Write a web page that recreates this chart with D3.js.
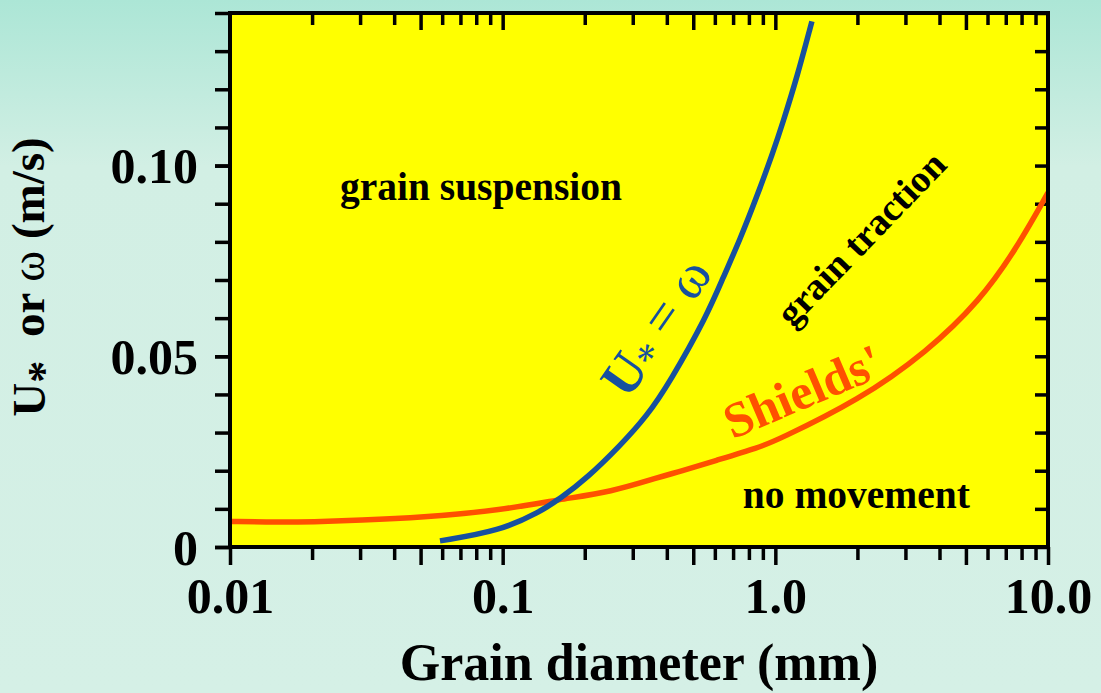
<!DOCTYPE html>
<html>
<head>
<meta charset="utf-8">
<script src="https://cdn.jsdelivr.net/npm/d3@7"></script>
<style>
  html, body { margin: 0; padding: 0; overflow: hidden; background: #d4f0e6; }
  svg { display: block; }
</style>
</head>
<body>
<script>
// Settling velocity curve (U* = ω): grain diameter (mm) vs velocity (m/s)
const settleDiameter = [0.0589, 0.0977, 0.137, 0.162, 0.204, 0.269, 0.338, 0.411, 0.561, 0.643, 0.742, 0.856, 0.98, 1.066, 1.2, 1.362];
const settleVelocity = [0.0016, 0.0042, 0.0092, 0.0126, 0.0181, 0.0265, 0.0343, 0.0433, 0.0606, 0.0706, 0.0806, 0.0919, 0.1034, 0.1113, 0.1231, 0.1378];

// Shields' threshold of motion: grain diameter (mm) vs critical shear velocity (m/s)
const shieldsDiameter = [0.01, 0.015, 0.02, 0.03, 0.05, 0.1, 0.162, 0.25, 0.378, 0.447, 0.6, 0.879, 1.0, 2.04, 3.6, 5.62, 7.69, 10];
const shieldsVelocity = [0.0067, 0.0065, 0.0066, 0.0070, 0.0077, 0.0097, 0.0125, 0.0144, 0.0184, 0.0198, 0.0226, 0.0262, 0.0278, 0.0386, 0.0512, 0.0645, 0.0784, 0.0929];

// Axis ticks
const xMajorTicks = [0.01, 0.1, 1, 10];
const xTickLabels = ["0.01", "0.1", "1.0", "10.0"];
const yMajorTicks = [0, 0.05, 0.10];
const yTickLabels = ["0", "0.05", "0.10"];

const W = 1101, H = 693;
const plot = { left: 230, right: 1048, top: 13, bottom: 547 };
const serif = "'Liberation Serif', 'Times New Roman', Times, serif";

const x = d3.scaleLog().domain([0.01, 10]).range([plot.left, plot.right]);
const y = d3.scaleLinear().domain([0, 0.14]).range([plot.bottom, plot.top]);

const svg = d3.select("body").append("svg")
  .attr("width", W).attr("height", H);

// Backdrop gradient
const defs = svg.append("defs");
const grad = defs.append("linearGradient")
  .attr("id", "bg").attr("x1", 0).attr("y1", 0).attr("x2", 0).attr("y2", 1);
grad.append("stop").attr("offset", "0%").attr("stop-color", "#ace6d6");
grad.append("stop").attr("offset", "24%").attr("stop-color", "#d2efe4");
grad.append("stop").attr("offset", "100%").attr("stop-color", "#d5f0e6");
svg.append("rect").attr("width", W).attr("height", H).attr("fill", "url(#bg)");

// Plot panel
svg.append("rect")
  .attr("x", plot.left).attr("y", plot.top)
  .attr("width", plot.right - plot.left).attr("height", plot.bottom - plot.top)
  .attr("fill", "#ffff00");

defs.append("clipPath").attr("id", "plotClip")
  .append("rect")
  .attr("x", plot.left).attr("y", plot.top)
  .attr("width", plot.right - plot.left).attr("height", plot.bottom - plot.top);

// Minor ticks: 2..9 in each decade; the 5s are drawn longer
const decades = [0.01, 0.1, 1];
const xMinor = [], xMid = [];
decades.forEach(dec => {
  [2, 3, 4, 6, 7, 8, 9].forEach(m => xMinor.push(+(dec * m).toPrecision(3)));
  xMid.push(+(dec * 5).toPrecision(3));
});
const yMinor = d3.range(0, 15).map(i => +(i * 0.01).toFixed(2));

function styleAxis(g) {
  g.select(".domain").remove();
  g.selectAll(".tick line").attr("stroke", "#000").attr("stroke-width", 3.5);
}

// Bottom axis (outward ticks)
svg.append("g").attr("transform", `translate(0,${plot.bottom})`)
  .call(d3.axisBottom(x).tickValues(xMinor).tickSize(13).tickFormat(""))
  .call(styleAxis);
svg.append("g").attr("transform", `translate(0,${plot.bottom})`)
  .call(d3.axisBottom(x).tickValues(xMid).tickSize(18).tickFormat(""))
  .call(styleAxis);
const xAxisMajor = svg.append("g").attr("transform", `translate(0,${plot.bottom})`)
  .call(d3.axisBottom(x).tickValues(xMajorTicks).tickSize(18)
    .tickFormat((d, i) => xTickLabels[i]))
  .call(styleAxis);
xAxisMajor.selectAll(".tick text")
  .attr("y", 66).attr("dy", 0)
  .attr("font-family", serif).attr("font-weight", "bold")
  .attr("font-size", 50).attr("fill", "#000");

// Top axis (inward ticks)
svg.append("g").attr("transform", `translate(0,${plot.top})`)
  .call(d3.axisTop(x).tickValues(xMinor).tickSize(-12).tickFormat(""))
  .call(styleAxis);
svg.append("g").attr("transform", `translate(0,${plot.top})`)
  .call(d3.axisTop(x).tickValues(xMid.concat([0.1, 1])).tickSize(-17).tickFormat(""))
  .call(styleAxis);

// Left axis (outward ticks, every 0.01)
svg.append("g").attr("transform", `translate(${plot.left},0)`)
  .call(d3.axisLeft(y).tickValues(yMinor).tickSize(15).tickFormat(""))
  .call(styleAxis);
const yAxisLabels = svg.append("g").attr("transform", `translate(${plot.left},0)`)
  .call(d3.axisLeft(y).tickValues(yMajorTicks).tickSize(15)
    .tickFormat((d, i) => yTickLabels[i]))
  .call(styleAxis);
yAxisLabels.selectAll(".tick text")
  .attr("x", -32).attr("dy", "0.34em")
  .attr("font-family", serif).attr("font-weight", "bold")
  .attr("font-size", 50).attr("fill", "#000");

// Right axis (inward ticks)
svg.append("g").attr("transform", `translate(${plot.right},0)`)
  .call(d3.axisRight(y).tickValues(yMinor).tickSize(-13).tickFormat(""))
  .call(styleAxis);

// Curves
const line = d3.line()
  .x(d => x(d[0])).y(d => y(d[1]))
  .curve(d3.curveBasis);

const curves = svg.append("g").attr("clip-path", "url(#plotClip)");
curves.append("path")
  .datum(d3.zip(shieldsDiameter, shieldsVelocity))
  .attr("d", line)
  .attr("fill", "none").attr("stroke", "#ff5000").attr("stroke-width", 5.5);
curves.append("path")
  .datum(d3.zip(settleDiameter, settleVelocity))
  .attr("d", line)
  .attr("fill", "none").attr("stroke", "#17509f").attr("stroke-width", 5.5);

// Frame
svg.append("rect")
  .attr("x", plot.left).attr("y", plot.top)
  .attr("width", plot.right - plot.left).attr("height", plot.bottom - plot.top)
  .attr("fill", "none").attr("stroke", "#000").attr("stroke-width", 4);

// Region and curve labels
const labels = svg.append("g")
  .attr("font-family", serif).attr("font-weight", "bold");

labels.append("text")
  .attr("x", x(0.0253)).attr("y", y(0.0911))
  .attr("font-size", 39.5).attr("fill", "#000")
  .text("grain suspension");

labels.append("text")
  .attr("x", x(0.76)).attr("y", y(0.0102))
  .attr("font-size", 39.5).attr("fill", "#000")
  .text("no movement");

labels.append("text")
  .attr("transform", `translate(${x(2.08)},${y(0.0806)}) rotate(-46)`)
  .attr("text-anchor", "middle").attr("dy", "0.3em")
  .attr("font-size", 38).attr("fill", "#000")
  .text("grain traction");

labels.append("text")
  .attr("transform", `translate(${x(1.26)},${y(0.0407)}) rotate(-23)`)
  .attr("text-anchor", "middle").attr("dy", "0.33em")
  .attr("font-size", 50).attr("fill", "#ff5000")
  .text("Shields'");

const uw = labels.append("text")
  .attr("transform", `translate(${x(0.368)},${y(0.0575)}) rotate(-55)`)
  .attr("text-anchor", "middle").attr("dy", "0.33em")
  .attr("font-size", 54).attr("fill", "#17509f");
uw.append("tspan").text("U");
uw.append("tspan").attr("dy", "0.18em").attr("font-size", 42).attr("font-weight", "normal").text("*");
uw.append("tspan").attr("dy", "-0.18em").attr("font-weight", "normal").text(" = ω");

// Axis titles
svg.append("text")
  .attr("x", (plot.left + plot.right) / 2).attr("y", 680)
  .attr("text-anchor", "middle")
  .attr("font-family", serif).attr("font-weight", "bold")
  .attr("font-size", 52).attr("fill", "#000")
  .text("Grain diameter (mm)");

const yTitle = svg.append("text")
  .attr("transform", `translate(45,277) rotate(-90)`)
  .attr("text-anchor", "middle")
  .attr("font-family", serif).attr("font-weight", "bold")
  .attr("font-size", 47).attr("fill", "#000");
yTitle.append("tspan").text("U");
yTitle.append("tspan").attr("dy", "0.3em").attr("font-size", 44).text("*");
yTitle.append("tspan").attr("dy", "-0.3em").attr("dx", 12).text(" or ");
yTitle.append("tspan").attr("font-weight", "normal").text("ω");
yTitle.append("tspan").text(" (m/s)");
</script>
</body>
</html>
